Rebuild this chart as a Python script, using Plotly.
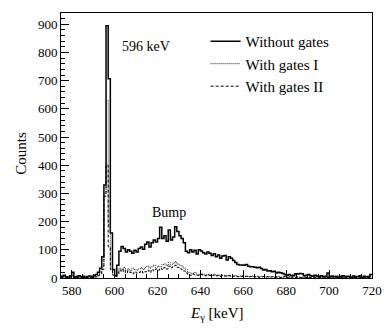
import numpy as np
import plotly.graph_objects as go

# 1 keV bins, left edges 575 ... 719
bin_start = 575
bin_width = 1

without_gates = [
    6, 10, 4, 3, 8, 20, 3, 5, 8, 4,            # 575-584
    6, 3, 5, 7, 4, 9, 12, 20, 35, 75,          # 585-594
    330, 895, 707, 160, 30, 8, 45, 95, 112, 105,   # 595-604
    92, 100, 95, 88, 98, 92, 105, 110, 102, 120,   # 605-614
    128, 110, 125, 135, 128, 140, 180, 140, 150, 130,  # 615-624
    170, 135, 145, 182, 165, 150, 140, 125, 95, 90,    # 625-634
    100, 92, 98, 85, 100, 96, 90, 85, 92, 88,      # 635-644
    80, 86, 75, 82, 70, 78, 80, 64, 75, 70,        # 645-654
    62, 55, 48, 46, 46, 45, 48, 42, 40, 40,        # 655-664
    38, 36, 38, 34, 28, 30, 25, 26, 22, 24,        # 665-674
    18, 20, 19, 16, 12, 10, 12, 8, 10, 15,         # 675-684
    14, 16, 15, 8, 10, 12, 8, 6, 10, 7,            # 685-694
    5, 8, 4, 6, 18, 5, 7, 4, 6, 3,                 # 695-704
    5, 8, 4, 6, 5, 3, 7, 4, 5, 8,                  # 705-714
    3, 6, 4, 5, 12,                                # 715-719
]

with_gates_1 = [
    3, 5, 2, 2, 4, 8, 2, 3, 4, 2,
    3, 2, 3, 4, 2, 4, 5, 10, 18, 40,
    300, 630, 190, 40, 12, 5, 20, 35, 30, 38,
    28, 32, 25, 35, 30, 28, 32, 36, 30, 38,
    42, 35, 40, 45, 38, 42, 40, 48, 50, 44,
    55, 48, 52, 58, 50, 45, 42, 35, 30, 20,
    18, 15, 20, 14, 12, 15, 12, 10, 13, 11,
    10, 12, 9, 11, 8, 10, 9, 8, 10, 7,
    8, 9, 6, 7, 8, 6, 7, 5, 6, 7,
    5, 6, 4, 5, 6, 4, 5, 4, 5, 3,
    4, 5, 3, 4, 6, 3, 4, 3, 5, 3,
    4, 3, 2, 4, 3, 2, 3, 4, 2, 3,
    2, 3, 4, 2, 3, 2, 4, 3, 2, 3,
    3, 2, 4, 3, 2, 3, 2, 3, 4, 2,
    3, 2, 3, 2, 4,
]

with_gates_2 = [
    2, 4, 2, 1, 3, 6, 1, 2, 3, 2,
    2, 1, 2, 3, 2, 3, 4, 8, 14, 30,
    290, 400, 110, 30, 10, 5, 15, 28, 22, 30,
    18, 25, 20, 15, 22, 18, 20, 25, 18, 22,
    28, 20, 30, 25, 32, 28, 35, 30, 38, 32,
    42, 36, 40, 45, 38, 35, 30, 25, 18, 12,
    10, 14, 12, 10, 9, 12, 10, 8, 11, 9,
    8, 10, 7, 9, 6, 8, 7, 6, 8, 5,
    6, 7, 5, 6, 5, 4, 6, 4, 5, 6,
    4, 5, 3, 4, 5, 3, 4, 3, 4, 2,
    3, 4, 2, 3, 5, 2, 3, 2, 4, 2,
    3, 2, 2, 3, 2, 1, 2, 3, 2, 2,
    2, 2, 3, 1, 2, 2, 3, 2, 1, 2,
    2, 1, 3, 2, 1, 2, 2, 2, 3, 1,
    2, 1, 2, 2, 3,
]

x_ticks = [580, 600, 620, 640, 660, 680, 700, 720]
y_ticks = [0, 100, 200, 300, 400, 500, 600, 700, 800, 900]

edges = bin_start + bin_width * np.arange(len(without_gates) + 1)

font = "'Liberation Serif', 'Times New Roman', Times, serif"
fig = go.Figure()

series = [
    ("Without gates", without_gates, dict(color="black", width=1.5, dash="solid")),
    ("With gates I", with_gates_1, dict(color="#222222", width=1, dash="1px,1px")),
    ("With gates II", with_gates_2, dict(color="black", width=1, dash="3px,2px")),
]
for name, counts, style in series:
    fig.add_trace(go.Scatter(x=edges, y=np.append(counts, counts[-1]),
                             mode="lines", line_shape="hv", name=name, line=style))

fig.add_annotation(x=614.5, y=822, text="596 keV", showarrow=False,
                   font=dict(family=font, size=14, color="black"))
fig.add_annotation(x=625.5, y=232, text="Bump", showarrow=False,
                   font=dict(family=font, size=14, color="black"))
# axis titles placed in paper coordinates so the margins stay fixed
fig.add_annotation(xref="paper", yref="paper", x=0.5, y=-0.095, yanchor="top",
                   text="<i>E</i><sub>γ</sub> [keV]", showarrow=False,
                   font=dict(family=font, size=15, color="black"))
fig.add_annotation(xref="paper", yref="paper", x=-0.16, y=0.47, textangle=-90,
                   text="Counts", showarrow=False,
                   font=dict(family=font, size=15, color="black"))

axis_common = dict(showgrid=False, zeroline=False, showline=True, linecolor="black",
                   linewidth=1, mirror=True, ticks="inside", tickcolor="black",
                   automargin=False,
                   tickfont=dict(family=font, size=13, color="black"))

fig.update_layout(
    width=388, height=332,
    margin=dict(l=61, r=16, t=13, b=54),
    plot_bgcolor="white", paper_bgcolor="white",
    font=dict(family=font, size=14, color="black"),
    xaxis=dict(range=[575, 720], tickvals=x_ticks, ticklen=8,
               minor=dict(dtick=5, ticks="inside", ticklen=4, tickcolor="black"),
               **axis_common),
    yaxis=dict(range=[0, 940], tickvals=y_ticks, ticklen=8,
               minor=dict(dtick=20, ticks="inside", ticklen=4, tickcolor="black"),
               **axis_common),
    legend=dict(x=0.465, y=0.955, xanchor="left", yanchor="top", bgcolor="rgba(0,0,0,0)",
                font=dict(family=font, size=15), itemwidth=30),
    showlegend=True,
)

fig.write_html("out.html", config={"displayModeBar": False},
               post_script="document.body.style.margin = '0';")
